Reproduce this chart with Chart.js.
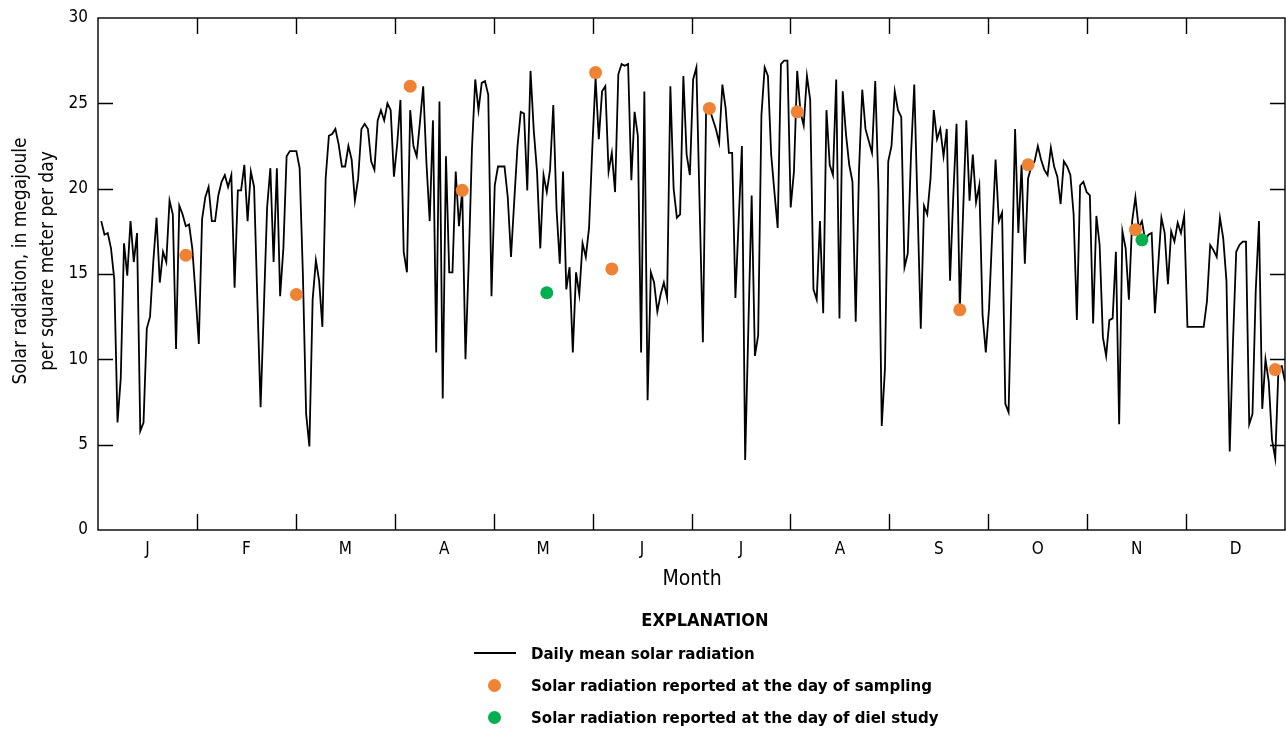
<!DOCTYPE html>
<html>
<head>
<meta charset="utf-8">
<script src="https://cdn.jsdelivr.net/npm/chart.js@4.4.1/dist/chart.umd.min.js"></script>
<style>
  html, body { margin: 0; padding: 0; background: #ffffff; }
  #wrap { position: relative; width: 1286px; height: 730px; overflow: hidden;
          font-family: 'DejaVu Sans Condensed', 'Liberation Sans', sans-serif; color: #000; }
  #chart { position: absolute; left: 0; top: 0; }
  .ytitle { position: absolute; left: -117px; top: 234px; width: 300px; height: 54px;
            text-align: center; font-size: 19px; line-height: 27px; transform: rotate(-90deg); white-space: nowrap; }
  .xtitle { position: absolute; left: 592px; top: 565px; width: 200px; text-align: center;
            font-size: 21px; line-height: 26px; }
  .legend { position: absolute; font-weight: bold; font-size: 16.7px; line-height: 22px; white-space: nowrap; }
  .lhead { left: 605px; top: 609px; width: 200px; text-align: center; font-size: 18px; }
  .litem { left: 531px; }
  .lline { position: absolute; left: 474px; top: 652px; width: 42px; height: 2px; background: #000; }
  .ldot { position: absolute; width: 13px; height: 13px; border-radius: 50%; left: 488px; }
</style>
</head>
<body>
<div id="wrap">
  <canvas id="chart" width="1286" height="730"></canvas>
  <div class="ytitle">Solar radiation, in megajoule<br>per square meter per day</div>
  <div class="xtitle">Month</div>
  <div class="legend lhead">EXPLANATION</div>
  <div class="lline"></div>
  <div class="legend litem" style="top:642px;">Daily mean solar radiation</div>
  <div class="ldot" style="top:679px;background:#EF8233;"></div>
  <div class="legend litem" style="top:674px;">Solar radiation reported at the day of sampling</div>
  <div class="ldot" style="top:711px;background:#00B050;"></div>
  <div class="legend litem" style="top:706px;">Solar radiation reported at the day of diel study</div>
</div>
<script>
// Month labels on the x axis
const monthLabels = ['J', 'F', 'M', 'A', 'M', 'J', 'J', 'A', 'S', 'O', 'N', 'D'];
// Y-axis tick values
const yTickValues = [0, 5, 10, 15, 20, 25, 30];
const daysInYear = 365;

// Daily mean solar radiation, megajoule per square meter per day (day 1 .. 365)
const dailyRadiation = [
  18.1, 17.3, 17.4, 16.5, 14.7, 6.3, 8.9, 16.8, 14.9, 18.1,
  15.7, 17.4, 5.8, 6.3, 11.8, 12.5, 15.7, 18.3, 14.5, 16.3,
  15.7, 19.3, 18.5, 10.6, 19.0, 18.5, 17.8, 17.9, 16.5, 13.8,
  10.9, 18.2, 19.5, 20.1, 18.1, 18.1, 19.6, 20.4, 20.8, 20.1,
  20.8, 14.2, 19.9, 19.9, 21.4, 18.1, 21.0, 20.1, 13.5, 7.2,
  13.0, 18.9, 21.2, 15.7, 21.2, 13.7, 16.5, 21.9, 22.2, 22.2,
  22.2, 21.2, 15.0, 6.8, 4.9, 13.5, 15.8, 14.6, 11.9, 20.6,
  23.1, 23.2, 23.5, 22.6, 21.3, 21.3, 22.5, 21.7, 19.3, 20.6,
  23.5, 23.8, 23.5, 21.6, 21.1, 24.0, 24.6, 24.0, 25.0, 24.6,
  20.7, 22.6, 25.2, 16.3, 15.1, 24.6, 22.5, 21.9, 23.9, 26.0,
  21.5, 18.1, 24.0, 10.4, 25.1, 7.7, 21.9, 15.1, 15.1, 21.0,
  17.8, 19.9, 10.0, 15.7, 22.4, 26.4, 24.6, 26.2, 26.3, 25.5,
  13.7, 20.2, 21.3, 21.3, 21.3, 19.5, 16.0, 19.3, 22.5, 24.5,
  24.4, 19.9, 26.9, 23.4, 21.0, 16.5, 20.8, 19.8, 21.1, 24.9,
  18.8, 15.6, 21.0, 14.1, 15.4, 10.4, 15.1, 13.8, 16.8, 16.0,
  17.7, 22.4, 26.5, 22.9, 25.7, 26.0, 21.0, 22.1, 19.8, 26.7,
  27.3, 27.2, 27.3, 20.5, 24.5, 23.1, 10.4, 25.7, 7.6, 15.1,
  14.5, 12.8, 13.8, 14.5, 13.6, 26.0, 20.0, 18.3, 18.5, 26.6,
  22.0, 20.8, 26.4, 27.1, 19.0, 11.0, 24.7, 24.7, 24.1, 23.5,
  22.7, 26.1, 24.7, 22.1, 22.1, 13.6, 18.1, 22.5, 4.1, 12.0,
  19.6, 10.2, 11.4, 24.3, 27.1, 26.6, 22.0, 19.8, 17.7, 27.3,
  27.5, 27.5, 18.9, 21.0, 26.9, 24.5, 23.7, 26.6, 25.2, 14.1,
  13.5, 18.1, 12.7, 24.6, 21.4, 20.8, 26.4, 12.4, 25.7, 23.2,
  21.4, 20.4, 12.2, 21.0, 25.8, 23.5, 22.8, 22.1, 26.3, 20.0,
  6.1, 9.5, 21.6, 22.5, 25.7, 24.6, 24.2, 15.4, 16.2, 22.0,
  26.1, 19.0, 11.8, 19.0, 18.5, 20.6, 24.6, 22.9, 23.5, 21.9,
  23.5, 14.6, 19.6, 23.8, 12.9, 18.5, 24.0, 19.3, 22.0, 19.2,
  20.2, 12.6, 10.4, 13.0, 17.5, 21.7, 18.1, 18.6, 7.4, 6.9,
  15.0, 23.5, 17.4, 21.4, 15.6, 20.6, 21.3, 21.6, 22.5, 21.7,
  21.1, 20.8, 22.4, 21.3, 20.7, 19.1, 21.6, 21.3, 20.8, 18.5,
  12.3, 20.2, 20.4, 19.8, 19.6, 12.1, 18.4, 16.7, 11.3, 10.2,
  12.3, 12.4, 16.3, 6.2, 17.5, 16.5, 13.5, 18.1, 19.5, 17.7,
  18.1, 17.0, 17.3, 17.4, 12.7, 15.5, 18.3, 17.4, 14.4, 17.5,
  16.9, 18.0, 17.4, 18.4, 11.9, 11.9, 11.9, 11.9, 11.9, 11.9,
  13.4, 16.7, 16.4, 16.0, 18.3, 17.1, 14.6, 4.6, 11.0, 16.3,
  16.7, 16.9, 16.9, 6.2, 6.8, 14.0, 18.1, 7.1, 10.0, 8.7,
  5.3, 4.2, 9.5, 9.6, 8.7
];

// Solar radiation on sampling days (day of year, value)
const samplingDays   = [27, 61, 96, 112, 153, 158, 188, 215, 265, 286, 319, 362];
const samplingValues = [16.1, 13.8, 26.0, 19.9, 26.8, 15.3, 24.7, 24.5, 12.9, 21.4, 17.6, 9.4];

// Solar radiation on diel-study days
const dielDays   = [138, 321];
const dielValues = [13.9, 17.0];

const lineData = dailyRadiation.map((v, i) => ({ x: i + 1, y: v }));
const samplingData = samplingDays.map((d, i) => ({ x: d, y: samplingValues[i] }));
const dielData = dielDays.map((d, i) => ({ x: d, y: dielValues[i] }));

const monthWidth = daysInYear / monthLabels.length;
const monthMids = monthLabels.map((m, i) => (i + 0.5) * monthWidth);
const monthEdges = monthLabels.map((m, i) => i * monthWidth).concat([daysInYear]);

const framePlugin = {
  id: 'frameTicks',
  afterDraw(chart) {
    const { ctx, chartArea: a, scales: { x, y } } = chart;
    ctx.save();
    ctx.strokeStyle = '#000';
    ctx.lineWidth = 1.4;
    ctx.strokeRect(a.left, a.top, a.right - a.left, a.bottom - a.top);
    const tl = 15;
    ctx.beginPath();
    yTickValues.forEach(v => {
      if (v === 0 || v === 30) return;
      const py = Math.round(y.getPixelForValue(v)) + 0.5;
      ctx.moveTo(a.left, py); ctx.lineTo(a.left + tl, py);
      ctx.moveTo(a.right, py); ctx.lineTo(a.right - tl, py);
    });
    monthEdges.forEach((d, i) => {
      if (i === 0 || i === monthEdges.length - 1) return;
      const px = Math.round(x.getPixelForValue(d)) + 0.5;
      ctx.moveTo(px, a.bottom); ctx.lineTo(px, a.bottom - tl - 1);
      ctx.moveTo(px, a.top); ctx.lineTo(px, a.top + tl + 1);
    });
    ctx.stroke();
    ctx.restore();
  }
};

const fontFam = "'DejaVu Sans Condensed', 'Liberation Sans', sans-serif";

new Chart(document.getElementById('chart'), {
  type: 'scatter',
  data: {
    datasets: [
      { label: 'Solar radiation reported at the day of sampling', data: samplingData,
        backgroundColor: '#EF8233', borderColor: '#EF8233', pointRadius: 6.5, pointBorderWidth: 0, order: 1 },
      { label: 'Solar radiation reported at the day of diel study', data: dielData,
        backgroundColor: '#00B050', borderColor: '#00B050', pointRadius: 6.5, pointBorderWidth: 0, order: 1 },
      { label: 'Daily mean solar radiation', data: lineData, showLine: true,
        borderColor: '#000', borderWidth: 1.8, pointRadius: 0, tension: 0, order: 2 }
    ]
  },
  options: {
    responsive: false,
    animation: false,
    devicePixelRatio: 1,
    layout: { autoPadding: false, padding: { top: 18, right: 1, bottom: 150, left: 0 } },
    plugins: { legend: { display: false }, tooltip: { enabled: false } },
    scales: {
      x: {
        type: 'linear', min: 0, max: daysInYear,
        grid: { display: false, drawTicks: false }, border: { display: false },
        afterFit(s) { s.height = 50; s.paddingLeft = 0; s.paddingRight = 0; },
        afterBuildTicks(s) { s.ticks = monthMids.map(v => ({ value: v })); },
        ticks: {
          autoSkip: false, maxRotation: 0, padding: 9, color: '#000',
          font: { family: fontFam, size: 17 },
          callback: (v, i) => monthLabels[i]
        }
      },
      y: {
        min: 0, max: 30,
        grid: { display: false, drawTicks: false }, border: { display: false },
        afterFit(s) { s.width = 98; s.paddingTop = 0; s.paddingBottom = 0; },
        afterBuildTicks(s) { s.ticks = yTickValues.map(v => ({ value: v })); },
        ticks: { padding: 10, color: '#000', font: { family: fontFam, size: 17 } }
      }
    }
  },
  plugins: [framePlugin]
});
</script>
</body>
</html>
